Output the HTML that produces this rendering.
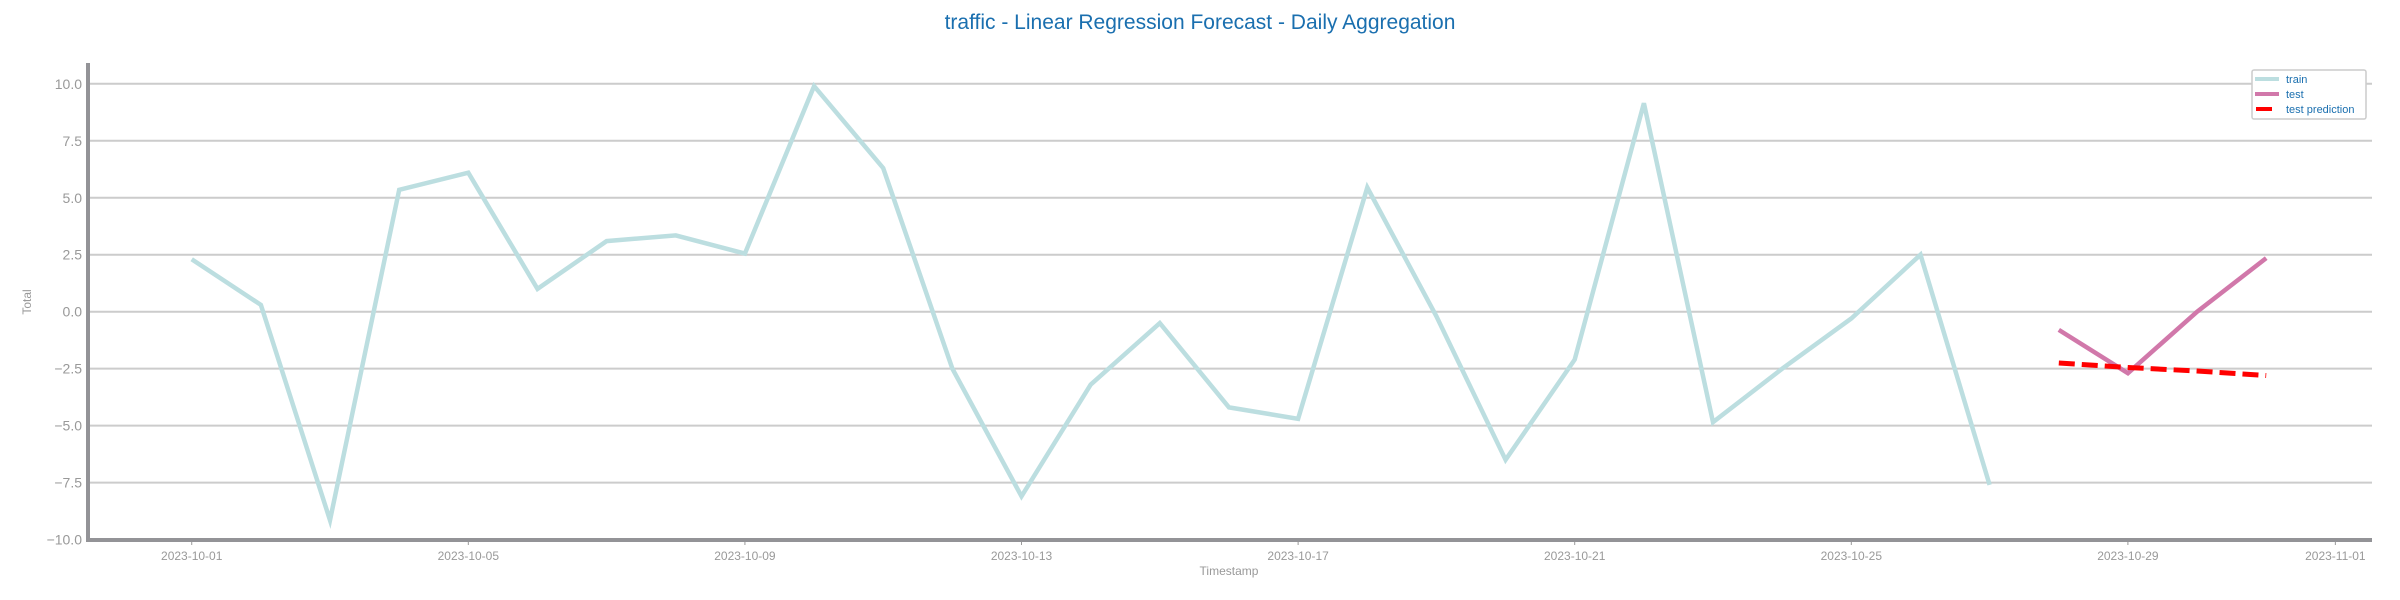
<!DOCTYPE html>
<html><head><meta charset="utf-8"><style>
html,body{margin:0;padding:0;background:#fff}
svg{display:block;font-family:"Liberation Sans","DejaVu Sans",sans-serif}
</style></head><body>
<svg id="chart" width="2400" height="600" viewBox="0 0 2400 600">
<text x="1200" y="29" text-anchor="middle" font-size="21" fill="#1a6faf">traffic - Linear Regression Forecast - Daily Aggregation</text>
<g id="grid"></g>
<g id="yticks"></g>
<g id="xticks"></g>
<g id="series"></g>
<text transform="translate(31,302) rotate(-90)" text-anchor="middle" font-size="12" fill="#999">Total</text>
<text x="1229" y="575" text-anchor="middle" font-size="12" fill="#999">Timestamp</text>
<g>
<rect x="2252" y="70" width="114" height="49" fill="#fff" stroke="#ccc" stroke-width="1.5" rx="2"/>
<g><line x1="2255" y1="79" x2="2279" y2="79" stroke="#bcdee0" stroke-width="4"/><text x="2286" y="83" font-size="11" fill="#1a6faf">train</text></g>
<g><line x1="2255" y1="94" x2="2279" y2="94" stroke="#d178aa" stroke-width="4"/><text x="2286" y="98" font-size="11" fill="#1a6faf">test</text></g>
<g><line x1="2256" y1="109" x2="2272" y2="109" stroke="#ff0000" stroke-width="4"/><text x="2286" y="113" font-size="11" fill="#1a6faf">test prediction</text></g>
</g>
</svg>
<script>
const trainValues=[2.3,0.3,-9.15,5.35,6.1,1.0,3.1,3.35,2.55,9.9,6.3,-2.5,-8.1,-3.2,-0.5,-4.2,-4.7,5.45,-0.2,-6.5,-2.1,9.15,-4.85,-2.5,-0.3,2.5,-7.6];
const testValues=[-0.8,-2.7,0.0,2.35];
const predValues=[-2.25,-2.45,-2.6,-2.8];
const yTicks=[10,7.5,5,2.5,0,-2.5,-5,-7.5,-10];
const xTickDays=[0,4,8,12,16,20,24,28,31];
const xTickLabels=["2023-10-01","2023-10-05","2023-10-09","2023-10-13","2023-10-17","2023-10-21","2023-10-25","2023-10-29","2023-11-01"];
const NS="http://www.w3.org/2000/svg";
const X0=88,X1=2372,D0=-1.5,D1=31.53;
const Y0=539.6,Y1=83.8,V0=-10,V1=10;
function x(d){return X0+(d-D0)/(D1-D0)*(X1-X0);}
function y(v){return Y0+(v-V0)/(V1-V0)*(Y1-Y0);}
function mk(tag,attrs,parent){const e=document.createElementNS(NS,tag);for(const k in attrs)e.setAttribute(k,attrs[k]);parent.appendChild(e);return e;}
const grid=document.getElementById('grid'),yt=document.getElementById('yticks'),xt=document.getElementById('xticks'),ser=document.getElementById('series');
yTicks.forEach(v=>{
 const l=mk('line',{x1:X0,x2:X1,y1:y(v),y2:y(v),stroke:'#cccccc','stroke-width':2},grid);
 
 
 const t=mk('text',{x:X0-6,y:y(v)+5,'text-anchor':'end','font-size':14,fill:'#999'},yt);
 t.textContent=(v<0?'\u2212':'')+Math.abs(v).toFixed(1);
 
 
});
xTickDays.forEach((d,i)=>{
 const tk=mk('line',{x1:x(d),x2:x(d),y1:541,y2:545,stroke:'#999','stroke-width':1},xt);
 
 
 const t=mk('text',{x:x(d),y:560,'text-anchor':'middle','font-size':12,fill:'#999'},xt);
 t.textContent=xTickLabels[i];
 
 
});
const sl=mk('line',{x1:X0,x2:X0,y1:63,y2:542,stroke:'#939397','stroke-width':4},xt);


const sb=mk('line',{x1:X0-2,x2:X1,y1:540,y2:540,stroke:'#939397','stroke-width':4},xt);


function pts(vals,off){return vals.map((v,i)=>x(i+off).toFixed(1)+','+y(v).toFixed(1)).join(' ');}
const p1=mk('polyline',{points:pts(trainValues,0),fill:'none',stroke:'#bcdee0','stroke-width':4.5,'stroke-linejoin':'miter'},ser);


const p2=mk('polyline',{points:pts(testValues,trainValues.length),fill:'none',stroke:'#d178aa','stroke-width':4.5},ser);


const p3=mk('polyline',{points:pts(predValues,trainValues.length),fill:'none',stroke:'#ff0000','stroke-width':5,'stroke-dasharray':'16 7'},ser);


</script>
</body></html>
